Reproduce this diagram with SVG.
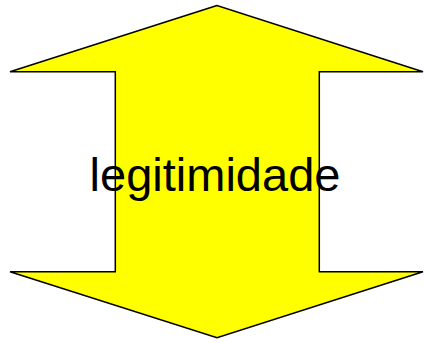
<svg xmlns="http://www.w3.org/2000/svg" width="424" height="343" viewBox="0 0 424 343">
<style>
.shape{fill:#ffff00;stroke:#000;stroke-width:1.5;stroke-linejoin:miter}
.lbl{font-family:"Liberation Sans",Arial,sans-serif;font-size:47px;fill:#000}
</style>
<g id="arrow">
<polygon class="shape" points="217,5.5 10,71.8 115.3,71.8 115.3,271.7 10,271.7 217,337.7 423,271.7 319.3,271.7 319.3,71.8 423,71.8"/>
<text class="lbl" x="215" y="191" text-anchor="middle">legitimidade</text>
</g>
</svg>
